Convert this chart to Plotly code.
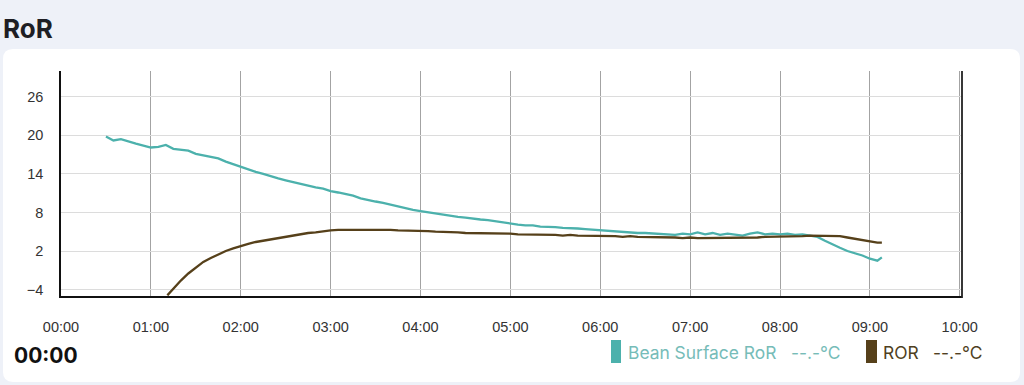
import plotly.graph_objects as go

# ---- data ----
bean_t = [30, 35, 40, 45, 50, 55, 60, 65, 70, 75, 80, 85, 90, 95, 100, 105, 110, 115, 120, 125,
          130, 135, 140, 145, 150, 155, 160, 165, 170, 175, 180, 185, 190, 195, 200, 205, 210, 215,
          220, 225, 230, 235, 240, 245, 250, 255, 260, 265, 270, 275, 280, 285, 290, 295, 300, 305,
          310, 315, 320, 325, 330, 335, 340, 345, 350, 355, 360, 365, 370, 375, 380, 385, 390, 395,
          400, 405, 410, 415, 420, 425, 430, 435, 440, 445, 450, 455, 460, 465, 470, 475, 480, 485,
          490, 495, 500, 505, 510, 515, 520, 525, 530, 535, 540, 545, 548]
bean_v = [19.8, 19.2, 19.4, 19.0, 18.7, 18.4, 18.1, 18.2, 18.5, 17.9, 17.8, 17.6, 17.1, 16.9, 16.6,
          16.4, 15.9, 15.5, 15.0, 14.7, 14.3, 14.0, 13.6, 13.3, 13.0, 12.7, 12.4, 12.2, 11.9, 11.7,
          11.3, 11.1, 10.9, 10.6, 10.2, 9.9, 9.7, 9.5, 9.2, 8.9, 8.7, 8.4, 8.2, 8.0, 7.9, 7.6, 7.5,
          7.3, 7.2, 7.0, 6.9, 6.8, 6.6, 6.4, 6.2, 6.1, 6.0, 6.0, 5.8, 5.8, 5.7, 5.6, 5.6, 5.5, 5.4,
          5.3, 5.3, 5.1, 5.0, 5.0, 4.9, 4.8, 4.8, 4.7, 4.6, 4.6, 4.5, 4.7, 4.6, 4.9, 4.6, 4.8, 4.5,
          4.7, 4.6, 4.4, 4.7, 4.9, 4.6, 4.7, 4.6, 4.7, 4.5, 4.6, 4.4, 4.2, 3.6, 3.0, 2.5, 2.0, 1.7,
          1.3, 0.8, 0.5, 1.0]

ror_t = [71, 75, 80, 85, 90, 95, 100, 105, 110, 115, 120, 125, 130, 135, 140, 145, 150, 155, 160,
         165, 170, 175, 180, 185, 190, 195, 200, 205, 210, 215, 220, 225, 230, 235, 240, 245, 250,
         255, 260, 265, 270, 275, 280, 285, 290, 295, 300, 305, 310, 315, 320, 325, 330, 335, 340,
         345, 350, 355, 360, 365, 370, 375, 380, 385, 390, 395, 400, 405, 410, 415, 420, 425, 430,
         435, 440, 445, 450, 455, 460, 465, 470, 475, 480, 485, 490, 495, 500, 505, 510, 515, 520,
         525, 530, 535, 540, 545, 548]
ror_v = [-4.9, -3.8, -2.6, -1.5, -0.6, 0.3, 0.9, 1.5, 2.0, 2.4, 2.8, 3.1, 3.4, 3.6, 3.9, 4.1, 4.2,
         4.4, 4.6, 4.8, 4.9, 5.1, 5.2, 5.3, 5.3, 5.4, 5.4, 5.3, 5.4, 5.3, 5.3, 5.2, 5.2, 5.1, 5.1,
         5.1, 5.0, 5.0, 4.9, 4.9, 4.8, 4.8, 4.8, 4.7, 4.7, 4.7, 4.7, 4.6, 4.6, 4.6, 4.5, 4.5, 4.5,
         4.4, 4.5, 4.4, 4.4, 4.3, 4.4, 4.3, 4.3, 4.2, 4.3, 4.2, 4.2, 4.1, 4.2, 4.1, 4.1, 4.0, 4.1,
         4.0, 4.0, 4.0, 4.0, 4.1, 4.0, 4.1, 4.1, 4.1, 4.2, 4.2, 4.2, 4.3, 4.3, 4.3, 4.4, 4.4, 4.4,
         4.3, 4.3, 4.1, 3.9, 3.7, 3.5, 3.3, 3.3]

x_tickvals = [0, 60, 120, 180, 240, 300, 360, 420, 480, 540, 600]
x_ticktext = ["00:00", "01:00", "02:00", "03:00", "04:00", "05:00", "06:00", "07:00", "08:00",
              "09:00", "10:00"]
y_tickvals = [-4, 2, 8, 14, 20, 26]

TEAL = "#4cb1ac"
BROWN = "#56401a"

fig = go.Figure()
fig.add_trace(go.Scatter(x=bean_t, y=bean_v, mode="lines", line=dict(color=TEAL, width=2.3),
                         name="Bean Surface RoR", showlegend=False))
fig.add_trace(go.Scatter(x=ror_t, y=ror_v, mode="lines", line=dict(color=BROWN, width=2.3),
                         name="ROR", showlegend=False))

W, H = 1024, 385
L, R, T, B = 61, 62, 71, 89


def px(x):
    return (x - L) / (W - L - R)


def py(y):
    return 1 - (y - T) / (H - T - B)


# rounded white card
x0, x1, y0, y1, r = 3, 1020, 49, 382, 10
path = (f"M {x0 + r} {y0} L {x1 - r} {y0} Q {x1} {y0} {x1} {y0 + r} L {x1} {y1 - r} "
        f"Q {x1} {y1} {x1 - r} {y1} L {x0 + r} {y1} Q {x0} {y1} {x0} {y1 - r} "
        f"L {x0} {y0 + r} Q {x0} {y0} {x0 + r} {y0} Z")


def conv(p):
    toks = p.split()
    out = []
    i = 0
    while i < len(toks):
        t = toks[i]
        if t in ("M", "L", "Q", "Z"):
            out.append(t)
            i += 1
        else:
            xv = float(toks[i]); yv = float(toks[i + 1])
            out.append(f"{px(xv):.5f}")
            out.append(f"{py(yv):.5f}")
            i += 2
    return " ".join(out)


shapes = [
    dict(type="path", xref="paper", yref="paper", path=conv(path),
         fillcolor="white", line=dict(width=0), layer="below"),
    dict(type="line", xref="paper", yref="paper", x0=1, x1=1, y0=py(298), y1=1,
         line=dict(color="#222", width=1.8)),
    # legend swatches
    dict(type="rect", xref="paper", yref="paper", x0=px(611), x1=px(621), y0=py(363), y1=py(340),
         fillcolor=TEAL, line=dict(width=0)),
    dict(type="rect", xref="paper", yref="paper", x0=px(866), x1=px(877), y0=py(363), y1=py(340),
         fillcolor=BROWN, line=dict(width=0)),
]

LEG_FONT = "Inter, Lato, sans-serif"
annotations = [
    dict(x=px(1), y=py(29), xref="paper", yref="paper", text="<b>RoR</b>", showarrow=False,
         xanchor="left", yanchor="middle",
         font=dict(family="Inter, sans-serif", size=26, color="#1e1e24")),
    dict(x=px(12), y=py(355), xref="paper", yref="paper", text="<b>00:00</b>", showarrow=False,
         xanchor="left", yanchor="middle",
         font=dict(family="Inter, sans-serif", size=21, color="#111")),
    dict(x=px(626), y=py(352), xref="paper", yref="paper", text="Bean Surface RoR", showarrow=False,
         xanchor="left", yanchor="middle", font=dict(family=LEG_FONT, size=17.4, color="#76bcb8")),
    dict(x=px(789), y=py(352), xref="paper", yref="paper", text="--.-°C", showarrow=False,
         xanchor="left", yanchor="middle", font=dict(family=LEG_FONT, size=17.4, color="#76bcb8")),
    dict(x=px(881), y=py(352), xref="paper", yref="paper", text="ROR", showarrow=False,
         xanchor="left", yanchor="middle", font=dict(family=LEG_FONT, size=17.4, color="#4f3f22")),
    dict(x=px(931), y=py(352), xref="paper", yref="paper", text="--.-°C", showarrow=False,
         xanchor="left", yanchor="middle", font=dict(family=LEG_FONT, size=17.4, color="#4f3f22")),
]

TICK_FONT = dict(family="Liberation Sans, Arial, sans-serif", size=14.5, color="#333")

fig.update_layout(
    width=W, height=H,
    margin=dict(l=L, r=R, t=T, b=B, pad=0),
    paper_bgcolor="#eef1f8",
    plot_bgcolor="white",
    shapes=shapes,
    annotations=annotations,
    showlegend=False,
    xaxis=dict(range=[0, 601.5], tickvals=x_tickvals, ticktext=x_ticktext,
               showgrid=True, gridcolor="#a3a3a3", gridwidth=1, zeroline=False,
               showline=True, linecolor="#111", linewidth=1.5,
               ticks="", ticklabelstandoff=17, tickfont=TICK_FONT),
    yaxis=dict(range=[-5, 30], tickvals=y_tickvals,
               showgrid=True, gridcolor="#dcdcdc", gridwidth=1, zeroline=False,
               showline=True, linecolor="#111", linewidth=1.5,
               ticks="", ticklabelstandoff=13, tickfont=TICK_FONT),
)

fig.write_html("out.html")
